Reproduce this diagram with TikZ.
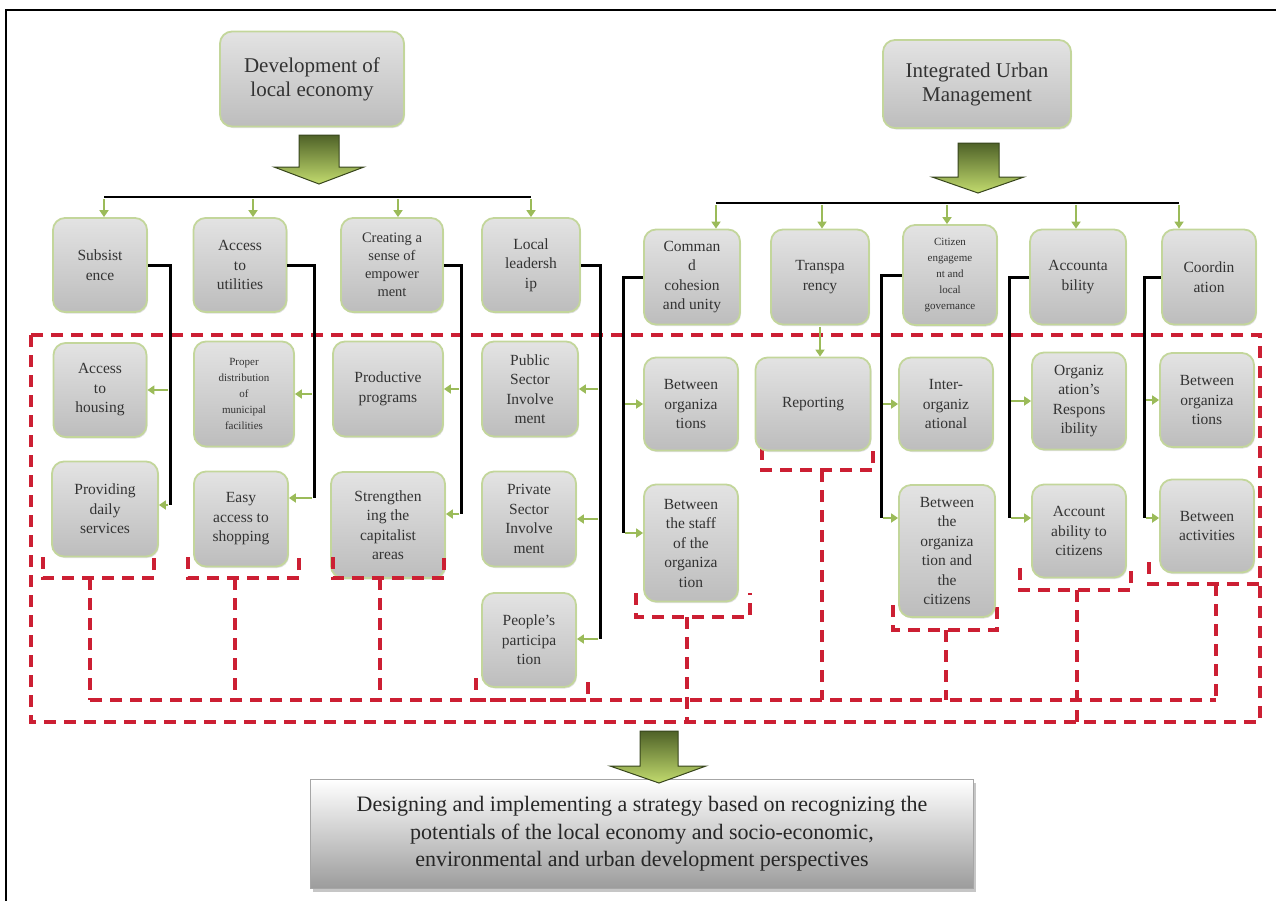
\documentclass[tikz,border=0pt]{standalone}
\usepackage{fontspec}
\setmainfont{Liberation Serif}
\usetikzlibrary{arrows.meta,shadows,positioning}

\definecolor{boxedge}{HTML}{C3D69B}
\definecolor{grn}{HTML}{9BBB59}
\definecolor{darkgrn}{HTML}{4F6228}
\definecolor{litegrn}{HTML}{C2DB6E}
\definecolor{dashred}{HTML}{CC1F33}

\tikzset{
  box/.style={draw=boxedge, line width=1.8pt, rounded corners=12pt,
    top color=gray!22, bottom color=gray!52, align=center, inner sep=2pt,
    font=\fontsize{15.5}{19.5}\selectfont, text=black!80,
    drop shadow={shadow xshift=1pt, shadow yshift=-1.5pt, opacity=0.25}},
  sz/.style 2 args={minimum width=#1pt, minimum height=#2pt},
  smalltext/.style={font=\fontsize{11}{16}\selectfont},
  titletext/.style={font=\fontsize{21}{24}\selectfont},
  garrow/.style={draw=grn, line width=2.2pt, shorten <=2pt, -{Triangle[length=7pt,width=9pt]}},
  trunk/.style={draw=black, line width=3pt},
  bar/.style={draw=black, line width=2.2pt},
  reddash/.style={draw=dashred, line width=3.2pt, dash pattern=on 12pt off 8pt},
  bigarrow/.style={draw=darkgrn!70!black, line width=1pt, top color=darkgrn, bottom color=litegrn},
  finalbox/.style={draw=gray!70, line width=1pt, top color=white, bottom color=gray!78,
    align=center, font=\fontsize{22}{27.5}\selectfont, text=black!85,
    drop shadow={shadow xshift=2pt, shadow yshift=-3pt, opacity=0.45}},
}

\begin{document}
\begin{tikzpicture}[x=1pt,y=-1pt]
  \useasboundingbox (0,0) rectangle (1276,900);
  % outer frame
  \draw[line width=2pt] (6,905) -- (6,10) -- (1285,10);

  % red dashed grouping
  \draw[reddash] (31,335) rectangle (1260,722);
  \draw[reddash] (90,700) -- (1216,700);
  \draw[reddash] (43,557) -- (43,578) -- (154,578) -- (154,557);
  \draw[reddash] (90,578) -- (90,700);
  \draw[reddash] (188,557) -- (188,578) -- (299,578) -- (299,557);
  \draw[reddash] (235,578) -- (235,700);
  \draw[reddash] (476,678) -- (476,700) -- (588,700) -- (588,678);
  \draw[reddash] (636,593) -- (636,617) -- (750,617) -- (750,593);
  \draw[reddash] (687,617) -- (687,722);
  \draw[reddash] (762,448) -- (762,470) -- (873,470) -- (873,448);
  \draw[reddash] (822,470) -- (822,700);
  \draw[reddash] (893,605) -- (893,630) -- (997,630) -- (997,605);
  \draw[reddash] (946,630) -- (946,700);
  \draw[reddash] (1020,568) -- (1020,590) -- (1131,590) -- (1131,568);
  \draw[reddash] (1077,590) -- (1077,722);
  \draw[reddash] (1149,562) -- (1149,584) -- (1260,584);
  \draw[reddash] (1216,584) -- (1216,700);

  \begin{scope}[every node/.style={box}]
    % titles
    \node[sz={184}{95}, titletext] (devl) at (312,79) {Development of\\local economy};
    \node[sz={188}{88}, titletext] (ium) at (977,84) {Integrated Urban\\Management};
    % local economy
    \node[sz={94}{94}] (subs) at (100,265) {Subsist\\ence};
    \node[sz={93}{94}] (access) at (240,265) {Access\\to\\utilities};
    \node[sz={102}{94}, font=\fontsize{14.5}{18}\selectfont] (creating) at (392,265) {Creating a\\sense of\\empower\\ment};
    \node[sz={98}{94}] (local) at (531,265) {Local\\leadersh\\ip};
    \node[sz={93}{94}] (housing) at (100,390) {Access\\to\\housing};
    \node[sz={100}{105}, smalltext] (proper) at (244,394) {Proper\\distribution\\of\\municipal\\facilities};
    \node[sz={110}{95}] (productive) at (388,389) {Productive\\programs};
    \node[sz={96}{95}] (public) at (530,389) {Public\\Sector\\Involve\\ment};
    \node[sz={106}{95}] (daily) at (105,509) {Providing\\daily\\services};
    \node[sz={94}{95}] (easy) at (241,519) {Easy\\access to\\shopping};
    \node[sz={114}{106}] (strength) at (388,525) {Strengthen\\ing the\\capitalist\\areas};
    \node[sz={94}{95}] (private) at (529,519) {Private\\Sector\\Involve\\ment};
    \node[sz={94}{94}] (people) at (529,640) {People's\\participa\\tion};
    % urban management
    \node[sz={96}{95}] (cmd) at (692,277) {Comman\\d\\cohesion\\and unity};
    \node[sz={98}{95}] (transp) at (820,277) {Transpa\\rency};
    \node[sz={94}{100}, smalltext] (citizen) at (950,275) {Citizen\\engageme\\nt and\\local\\governance};
    \node[sz={96}{95}] (acc) at (1078,277) {Accounta\\bility};
    \node[sz={94}{95}] (coord) at (1209,277) {Coordin\\ation};
    \node[sz={94}{93}] (borg1) at (691,404) {Between\\organiza\\tions};
    \node[sz={115}{93}] (report) at (813,404) {Reporting};
    \node[sz={94}{93}] (interorg) at (946,404) {Inter-\\organiz\\ational};
    \node[sz={94}{97}] (resp) at (1079,401) {Organiz\\ation's\\Respons\\ibility};
    \node[sz={94}{94}] (borg2) at (1207,400) {Between\\organiza\\tions};
    \node[sz={94}{117}] (staff) at (691,543) {Between\\the staff\\of the\\organiza\\tion};
    \node[sz={96}{132}] (orgcit) at (947,551) {Between\\the\\organiza\\tion and\\the\\citizens};
    \node[sz={94}{93}] (acccit) at (1079,531) {Account\\ability to\\citizens};
    \node[sz={94}{93}] (activ) at (1207,526) {Between\\activities};
  \end{scope}

  % bracket over Strengthening box
  \draw[reddash] (333,557) -- (333,578) -- (444,578) -- (444,557);
  \draw[reddash] (380,578) -- (380,700);

  % big arrows under the titles
  \draw[bigarrow] (299,135) -- (339,135) -- (339,167) -- (364,167) -- (319,184)
    -- (274,167) -- (299,167) -- cycle;
  \draw[bigarrow] (958,143) -- (999,143) -- (999,177) -- (1024,177) -- (978,193)
    -- (932,177) -- (958,177) -- cycle;

  % brackets
  \draw[bar] (104,197) -- (531,197);
  \foreach \x/\n in {104/subs,253/access,398/creating,531/local}{
    \coordinate (tmp) at (\x,197);
    \draw[garrow] (tmp) -- (tmp |- \n.north);
  }
  \draw[bar] (716,203) -- (1179,203);
  \foreach \x/\n in {716/cmd,822/transp,947/citizen,1076/acc,1179/coord}{
    \coordinate (tmp) at (\x,203);
    \draw[garrow] (tmp) -- (tmp |- \n.north);
  }

  % trunks
  \coordinate (t1) at (170,505);
  \coordinate (t2) at (314,498);
  \coordinate (t3) at (461,514);
  \coordinate (t4) at (600,639);
  \coordinate (t5) at (623,533);
  \coordinate (t6) at (881,518);
  \coordinate (t7) at (1009,518);
  \coordinate (t8) at (1144,518);
  \draw[trunk] (subs.east) -| (t1);
  \draw[trunk] (access.east) -| (t2);
  \draw[trunk] (creating.east) -| (t3);
  \draw[trunk] (local.east) -| (t4);
  \draw[trunk] (cmd.west) -| (t5);
  \draw[trunk] (citizen.west) -| (t6);
  \draw[trunk] (acc.west) -| (t7);
  \draw[trunk] (coord.west) -| (t8);

  \draw[garrow] (housing.east -| t1) -- (housing.east);
  \draw[garrow] (t1) -- (t1 -| daily.east);
  \draw[garrow] (proper.east -| t2) -- (proper.east);
  \draw[garrow] (t2) -- (t2 -| easy.east);
  \draw[garrow] (productive.east -| t3) -- (productive.east);
  \draw[garrow] (t3) -- (t3 -| strength.east);
  \draw[garrow] (public.east -| t4) -- (public.east);
  \draw[garrow] (private.east -| t4) -- (private.east);
  \draw[garrow] (t4) -- (t4 -| people.east);
  \draw[garrow] (borg1.west -| t5) -- (borg1.west);
  \draw[garrow] (t5) -- (t5 -| staff.west);
  \draw[garrow] (interorg.west -| t6) -- (interorg.west);
  \draw[garrow] (t6) -- (t6 -| orgcit.west);
  \draw[garrow] (resp.west -| t7) -- (resp.west);
  \draw[garrow] (t7) -- (t7 -| acccit.west);
  \draw[garrow] (borg2.west -| t8) -- (borg2.west);
  \draw[garrow] (t8) -- (t8 -| activ.west);
  \draw[garrow] (transp.south) -- (transp.south |- report.north);

  % outcome
  \node[finalbox, minimum width=663pt, minimum height=109pt] (design) at (642,834)
    {Designing and implementing a strategy based on recognizing the\\
     potentials of the local economy and socio-economic,\\
     environmental and urban development perspectives};
  \draw[bigarrow] (640,731) -- (678,731) -- (678,766) -- (706,766) -- (659,783)
    -- (610,766) -- (640,766) -- cycle;
\end{tikzpicture}
\end{document}
